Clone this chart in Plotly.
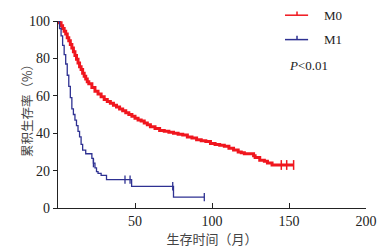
import plotly.graph_objects as go

# M0 survival curve (months, %)
m0_time = [0, 1, 2, 3, 4, 5, 6, 7, 8, 9, 10, 11, 12, 13, 14, 15, 16, 17, 18, 19,
           20, 22, 24, 26, 28, 30, 32, 34, 36, 38, 40, 42, 44, 46, 48, 50, 52, 54,
           56, 58, 60, 63, 66, 69, 72, 75, 78, 81, 84, 87, 90, 93, 96, 99, 102,
           105, 108, 111, 114, 117, 119, 121, 124, 127, 128, 131, 134, 136, 139, 153]
m0_surv = [100, 99, 97.5, 96, 94.5, 93, 91, 89.5, 87.5, 85.5, 83.5, 81.5, 79.5, 77.5,
           75.5, 74, 72, 70.5, 69, 67.5, 66.5, 64.5, 62.5, 61, 59.5, 58, 57, 56, 55,
           54, 53, 52, 51, 50, 49, 48, 47, 46.5, 45.5, 44.5, 43.5, 42.5, 41.5, 41,
           40.5, 40, 39.5, 39, 38, 37.5, 36.5, 36, 35.5, 34.5, 34, 33.5, 33, 32, 31,
           30, 29.5, 29, 29, 28, 27, 25.5, 25, 24, 23, 23]
m0_cens_time = [145, 148.5, 153]
m0_cens_surv = [23, 23, 23]

# M1 survival curve
m1_time = [0, 1, 2, 3, 4, 5, 6, 7, 8, 9, 10, 11, 12, 13, 14, 15, 16, 18, 22, 23,
           24, 25, 26, 28, 31.5, 47.8, 75, 95]
m1_surv = [100, 96, 92, 87, 82, 77, 71, 65, 59, 53, 50, 47, 44, 41, 38, 34, 31, 29,
           26.5, 24, 21.5, 19.5, 18.5, 17.5, 15.2, 11.6, 5.8, 5.8]
m1_cens_time = [23, 43.5, 46.8, 74.5, 95]
m1_cens_surv = [24, 15.2, 15.2, 11.6, 5.8]

x_ticks = [50, 100, 150, 200]
y_ticks = [0, 20, 40, 60, 80, 100]

RED = "#f0161e"
BLUE = "#2e3192"

fig = go.Figure()
fig.add_trace(go.Scatter(x=m0_time, y=m0_surv, mode="lines", line=dict(color=RED, width=3, shape="hv"),
                         showlegend=False, hoverinfo="skip"))
fig.add_trace(go.Scatter(x=m0_cens_time, y=m0_cens_surv, mode="markers",
                         marker=dict(symbol="line-ns", size=7, line=dict(color=RED, width=1.5)),
                         showlegend=False, hoverinfo="skip"))
fig.add_trace(go.Scatter(x=m1_time, y=m1_surv, mode="lines", line=dict(color=BLUE, width=1.3, shape="hv"),
                         showlegend=False, hoverinfo="skip"))
fig.add_trace(go.Scatter(x=m1_cens_time, y=m1_cens_surv, mode="markers",
                         marker=dict(symbol="line-ns", size=6, line=dict(color=BLUE, width=1.3)),
                         showlegend=False, hoverinfo="skip"))

serif = "Liberation Serif"
cjk = "Noto Sans CJK SC"

fig.update_xaxes(range=[0, 200], tickvals=x_ticks, ticks="inside", ticklen=5, tickwidth=1.2,
                 tickcolor="#222", showline=True, linecolor="#222", linewidth=1.3,
                 showgrid=False, zeroline=False, automargin=False,
                 tickfont=dict(family=serif, size=14, color="#222"),
                 title=dict(text="生存时间（月）", font=dict(family=cjk, size=13, color="#444"), standoff=3))
fig.update_yaxes(range=[0, 100], tickvals=y_ticks, ticks="outside", ticklen=4, tickwidth=1.2,
                 tickcolor="#222", showline=True, linecolor="#222", linewidth=1.3,
                 showgrid=False, zeroline=False, automargin=False,
                 tickfont=dict(family=serif, size=14, color="#222"))

# Legend drawn manually
shapes = []
annotations = []
for yy, col, name in [(1.031, RED, "M0"), (0.9005, BLUE, "M1")]:
    shapes.append(dict(type="line", xref="paper", yref="paper", x0=0.737, x1=0.812, y0=yy, y1=yy,
                       line=dict(color=col, width=1.5)))
    shapes.append(dict(type="line", xref="paper", yref="paper", x0=0.776, x1=0.776, y0=yy, y1=yy + 0.02,
                       line=dict(color=col, width=1.5)))
    annotations.append(dict(xref="paper", yref="paper", x=0.857, y=yy, xanchor="left", yanchor="middle",
                            text=name, showarrow=False, font=dict(family=serif, size=13, color="#222")))
annotations.append(dict(xref="paper", yref="paper", x=0.745, y=0.761, xanchor="left", yanchor="middle",
                        text="<i>P</i>&lt;0.01", showarrow=False, font=dict(family=serif, size=13, color="#222")))
# y-axis title
annotations.append(dict(xref="paper", yref="paper", x=-0.104, y=0.54, xanchor="center", yanchor="middle",
                        text="累积生存率（%）", textangle=-90, showarrow=False,
                        font=dict(family=cjk, size=12.5, color="#444")))

# page body adds an 8px offset; size figure so the plot area lands where the reference has it
fig.update_layout(width=384, height=244, autosize=False,
                  margin=dict(l=50, r=26, t=13, b=44, pad=0),
                  plot_bgcolor="white", paper_bgcolor="white",
                  shapes=shapes, annotations=annotations)

fig.write_html("out.html")
